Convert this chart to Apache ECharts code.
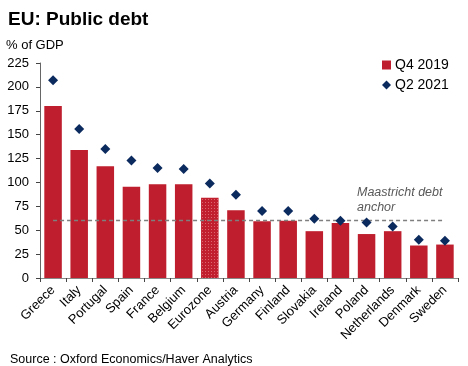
<!DOCTYPE html>
<html><head><meta charset="utf-8">
<script src="https://cdn.jsdelivr.net/npm/echarts@6/dist/echarts.min.js"></script>
<style>html,body{margin:0;padding:0;background:#fff}#c{width:468px;height:366px}</style>
</head><body><div id="c"></div>
<script>
const categories = ['Greece','Italy','Portugal','Spain','France','Belgium','Eurozone','Austria','Germany','Finland','Slovakia','Ireland','Poland','Netherlands','Denmark','Sweden'];
const q4_2019 = [180,134,117,95.5,98,98,84,71,59.5,60,49,57.5,46,49,34,35];
const q2_2021 = [207,156,135,123,115,114,99,87,70,70,62,60,58,54,40,39];
const yTicks = [0,25,50,75,100,125,150,175,200,225];
const anchorValue = 60;

const FONT = '"Liberation Sans", Arial, sans-serif';
const RED = '#BE1E2D';
const NAVY = '#0B2A5E';

const pc = document.createElement('canvas');
pc.width = 3; pc.height = 3;
const g = pc.getContext('2d');
g.fillStyle = '#C21F2E'; g.fillRect(0,0,3,3);
g.fillStyle = '#DC6670'; g.fillRect(1,1,1,1);

const barData = q4_2019.map((v,i) => categories[i] === 'Eurozone'
  ? {value: v, itemStyle: {color: {image: pc, repeat: 'repeat'}}}
  : v);

const chart = echarts.init(document.getElementById('c'), null, {renderer: 'canvas'});
chart.setOption({
  animation: false,
  textStyle: {fontFamily: FONT},
  title: [
    {text: 'EU: Public debt', left: 3, top: 5, textStyle: {fontSize: 19, fontWeight: 'bold', color: '#000', fontFamily: FONT}},
    {text: '% of GDP', left: 1, top: 34, textStyle: {fontSize: 13, fontWeight: 'normal', color: '#000', fontFamily: FONT}},
    {text: 'Source : Oxford Economics/Haver Analytics', left: 5, top: 348, textStyle: {fontSize: 12.5, fontWeight: 'normal', color: '#000', fontFamily: FONT}}
  ],
  legend: {
    orient: 'vertical', left: 377, top: 53, itemGap: 6, itemWidth: 9, itemHeight: 9,
    textStyle: {fontSize: 14, color: '#000', fontFamily: FONT, padding: [0,0,0,-1]},
    data: [{name: 'Q4 2019', icon: 'rect'}, {name: 'Q2 2021', icon: 'diamond'}]
  },
  grid: {left: 40, right: 10, top: 63, bottom: 88, containLabel: false},
  xAxis: {
    type: 'category', data: categories,
    axisLine: {lineStyle: {color: '#888', width: 1}},
    axisTick: {show: true, alignWithLabel: false, length: 4, lineStyle: {color: '#444'}},
    axisLabel: {rotate: 45, fontSize: 13, color: '#000', margin: 10, fontFamily: FONT, interval: 0}
  },
  yAxis: {
    type: 'value', min: yTicks[0], max: yTicks[yTicks.length-1], interval: 25,
    splitLine: {show: false},
    axisLine: {show: true, lineStyle: {color: '#666'}},
    axisTick: {show: true, length: 4, lineStyle: {color: '#444'}},
    axisLabel: {fontSize: 13, color: '#000', margin: 11, fontFamily: FONT}
  },
  series: [
    {
      name: 'Q4 2019', type: 'bar', data: barData, barCategoryGap: '33%',
      itemStyle: {color: RED},
      markLine: {
        silent: true, symbol: 'none',
        lineStyle: {type: [4,3], color: '#7F7F7F', width: 1.3},
        label: {show: false},
        data: [[{coord: [categories[0], anchorValue]}, {coord: [categories[categories.length-1], anchorValue]}]]
      }
    },
    {
      name: 'Q2 2021', type: 'scatter', data: q2_2021, symbol: 'diamond', symbolSize: 10,
      itemStyle: {color: NAVY, opacity: 1}, z: 5
    }
  ],
  graphic: [
    {type: 'text', left: 357, top: 185, style: {text: 'Maastricht debt\nanchor', font: 'italic 12.5px ' + FONT, fill: '#595959', lineHeight: 15}}
  ]
});
</script></body></html>
